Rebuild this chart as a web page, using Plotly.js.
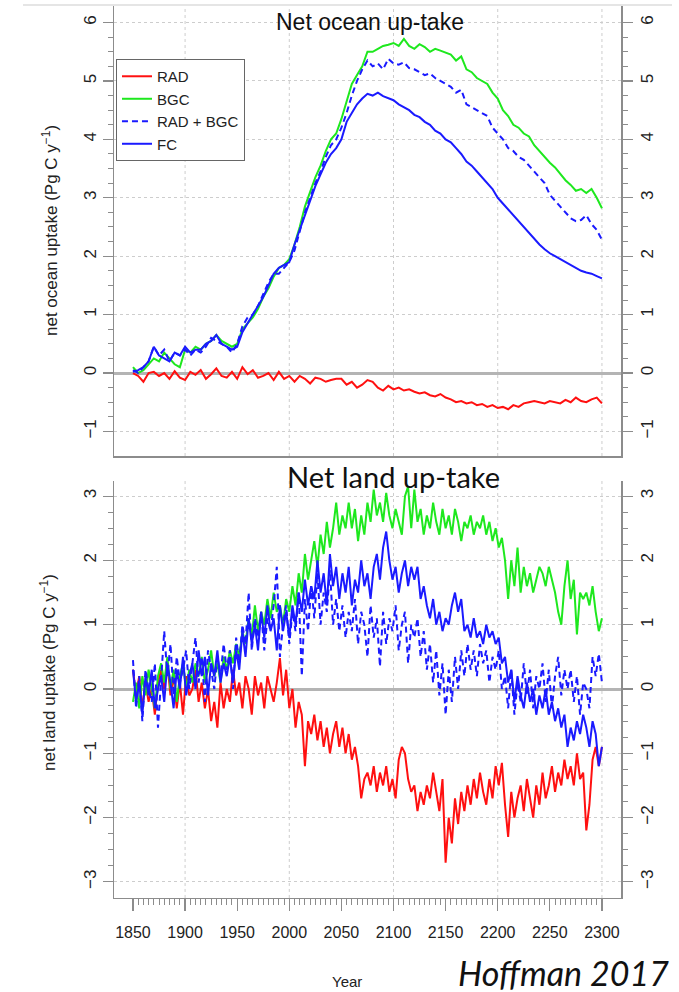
<!DOCTYPE html>
<html>
<head>
<meta charset="utf-8">
<script src="https://cdn.plot.ly/plotly-3.0.1.min.js"></script>
<style>
  html, body { margin: 0; padding: 0; background: #fff; }
  #chart { width: 679px; height: 992px; }
</style>
</head>
<body>
<div id="chart"></div>
<script>
// Year axes: ocean series are sampled every 5 years, land series every 3 years
const oceanYears = [];
for (let y = 1850; y <= 2300; y += 5) oceanYears.push(y);
const landYears = [];
for (let y = 1850; y <= 2300; y += 3) landYears.push(y);

// Net ocean uptake (Pg C / yr)
const oceanRAD = [
  0.0, -0.05, -0.15, 0.0, 0.02, -0.05, 0.0, -0.1, 0.03, -0.08,
  -0.12, 0.02, -0.03, 0.05, -0.1, -0.02, 0.08, -0.05, -0.08, 0.02,
  -0.1, 0.1, -0.02, 0.05, -0.08, -0.05, 0.0, -0.12, 0.02, -0.1,
  -0.05, -0.15, -0.05, -0.1, -0.18, -0.08, -0.1, -0.15, -0.12, -0.1,
  -0.1, -0.2, -0.15, -0.25, -0.2, -0.12, -0.15, -0.25, -0.3, -0.22,
  -0.28, -0.25, -0.3, -0.28, -0.32, -0.35, -0.33, -0.38, -0.4, -0.36,
  -0.42, -0.45, -0.5, -0.48, -0.52, -0.5, -0.55, -0.53, -0.58, -0.55,
  -0.6, -0.58, -0.62, -0.55, -0.58, -0.52, -0.5, -0.48, -0.5, -0.52,
  -0.48, -0.5, -0.52, -0.46, -0.5, -0.42, -0.48, -0.5, -0.45, -0.42,
  -0.52
];
const oceanBGC = [
  0.1, 0.0, 0.05, 0.15, 0.25, 0.2, 0.35, 0.25, 0.15, 0.1,
  0.4, 0.35, 0.45, 0.4, 0.5, 0.55, 0.65, 0.55, 0.5, 0.45,
  0.5, 0.75, 0.85, 0.95, 1.1, 1.3, 1.45, 1.65, 1.8, 1.85,
  1.95, 2.2, 2.5, 2.85, 3.1, 3.35, 3.55, 3.8, 4.0, 4.1,
  4.35, 4.65, 4.95, 5.1, 5.25, 5.5, 5.5, 5.55, 5.6, 5.62,
  5.65, 5.6, 5.72, 5.6, 5.55, 5.63, 5.58, 5.5, 5.55, 5.52,
  5.48, 5.45, 5.35, 5.42, 5.2, 5.15, 5.05, 5.0, 4.95, 4.8,
  4.7, 4.5, 4.4, 4.25, 4.2, 4.1, 4.05, 3.9, 3.8, 3.7,
  3.6, 3.52, 3.4, 3.3, 3.22, 3.12, 3.15, 3.08, 3.15, 3.0,
  2.82
];
const oceanRADBGC = [
  0.05, 0.0, 0.1, 0.2, 0.45, 0.3, 0.4, 0.2, 0.35, 0.3,
  0.4, 0.3, 0.4, 0.35, 0.45, 0.6, 0.55, 0.5, 0.45, 0.35,
  0.5, 0.8, 0.95, 1.0, 1.15, 1.35, 1.55, 1.7, 1.7, 1.8,
  1.9, 2.1, 2.45, 2.75, 3.0, 3.25, 3.45, 3.7, 3.9, 4.0,
  4.2, 4.45, 4.75, 5.0, 5.2, 5.35, 5.25, 5.3, 5.2, 5.38,
  5.3, 5.28, 5.32, 5.22, 5.2, 5.15, 5.1, 5.13, 5.05, 5.0,
  4.95, 4.9, 4.8, 4.85, 4.6, 4.55, 4.5, 4.45, 4.4, 4.2,
  4.1, 4.0, 3.85, 3.8, 3.7, 3.65, 3.55, 3.45, 3.35, 3.25,
  3.05, 2.95, 2.85, 2.75, 2.65, 2.6, 2.62, 2.7, 2.55, 2.45,
  2.28
];
const oceanFC = [
  0.02, 0.05, 0.1, 0.2, 0.45, 0.3, 0.25, 0.2, 0.35, 0.3,
  0.45, 0.35, 0.4, 0.4, 0.5, 0.55, 0.65, 0.5, 0.45, 0.4,
  0.45, 0.7, 0.85, 1.0, 1.15, 1.3, 1.5, 1.7, 1.8, 1.85,
  1.9, 2.2, 2.45, 2.7, 2.95, 3.2, 3.4, 3.6, 3.75, 3.85,
  4.0, 4.3, 4.45, 4.6, 4.7, 4.78, 4.75, 4.8, 4.74, 4.7,
  4.67, 4.6, 4.55, 4.5, 4.42, 4.38, 4.3, 4.25, 4.15, 4.1,
  4.0, 3.95, 3.85, 3.75, 3.62, 3.55, 3.45, 3.35, 3.25, 3.15,
  3.0, 2.9, 2.8, 2.7, 2.6, 2.5, 2.4, 2.3, 2.2, 2.12,
  2.05, 2.0, 1.95, 1.9, 1.85, 1.8, 1.75, 1.72, 1.7, 1.66,
  1.62
];

// Net land uptake (Pg C / yr)
const landRAD = [
  0.3, -0.1, 0.2, -0.3, 0.1, -0.2, 0.0, -0.4, 0.1, 0.3,
  0.0, 0.4, -0.1, 0.2, -0.3, 0.1, -0.4, 0.2, -0.1, 0.0,
  0.3, -0.2, 0.1, -0.3, 0.0, -0.5, -0.2, -0.6, 0.1, -0.3,
  0.0, -0.2, 0.3, -0.1, 0.1, -0.3, 0.2, 0.0, -0.4, 0.2,
  -0.1, 0.1, -0.3, 0.2, 0.0, -0.2, 0.1, 0.48, -0.1, 0.3,
  -0.3, 0.0, -0.6, -0.2, -0.4, -1.2, -0.5, -0.7, -0.4, -0.8,
  -0.5, -0.9, -0.6, -1.0, -0.7, -0.5, -0.9, -0.6, -1.0, -0.7,
  -1.1, -0.9, -1.2, -1.7, -1.4, -1.3, -1.5, -1.2, -1.6, -1.3,
  -1.5, -1.2, -1.6, -1.4, -1.7, -1.1, -0.9, -1.0, -1.4, -1.6,
  -1.5, -1.9, -1.6, -1.8, -1.5, -1.7, -1.3, -1.6, -1.9, -1.4,
  -2.7, -2.0, -2.4, -1.7, -2.1, -1.6, -1.9, -1.5, -1.8, -1.4,
  -1.7, -1.3, -1.6, -1.8, -1.4, -1.7, -1.2, -1.5, -1.15, -1.8,
  -2.3, -1.6, -2.0, -1.7, -1.5, -1.9, -1.4, -1.7, -2.0, -1.5,
  -1.8, -1.3, -1.7, -1.5, -1.2, -1.6, -1.3, -1.5, -1.1, -1.4,
  -1.2, -1.5, -1.0, -1.4, -1.3, -2.2, -1.8, -1.1, -0.9, -1.2,
  -0.9
];
const landBGC = [
  -0.2, 0.1, -0.3, 0.2, -0.1, 0.3, 0.0, -0.3, 0.2, 0.4,
  0.1, 0.5, 0.0, 0.3, -0.2, 0.2, 0.4, 0.0, 0.3, 0.1,
  0.4, 0.2, 0.5, 0.1, 0.3, 0.6, 0.2, 0.4, 0.1, 0.5,
  0.3, 0.6, 0.4, 0.7, 0.5, 0.9, 0.7, 1.1, 0.8, 1.3,
  0.9, 1.2, 1.0, 1.4, 1.1, 1.5, 1.2, 1.3, 1.0, 1.4,
  1.2, 1.6, 1.3, 1.8, 1.5, 2.1, 1.7, 2.0, 2.3, 1.9,
  2.4, 2.1, 2.6, 2.2, 2.5, 2.9, 2.4, 2.7, 2.5, 2.9,
  2.5, 2.8, 2.3, 2.7, 2.4, 2.9, 2.6, 3.1, 2.7, 2.9,
  2.6, 3.05, 2.7, 2.5, 2.8, 2.6, 2.4, 3.0, 3.15, 2.5,
  3.1, 2.6, 2.8, 2.4, 2.7, 2.5, 2.9, 2.6, 2.4, 2.8,
  2.5, 2.7, 2.4, 2.8, 2.6, 2.3, 2.6, 2.5, 2.7, 2.4,
  2.6, 2.5, 2.7, 2.4, 2.6, 2.3, 2.5, 2.2, 2.35, 2.0,
  1.4, 2.0, 1.6, 2.2, 1.5, 1.9, 1.6, 1.8, 1.5, 1.7,
  1.9, 1.8, 1.6, 1.9, 1.7, 1.5, 1.2, 1.0, 1.6, 2.0,
  1.4, 1.7, 0.85, 1.5, 1.4, 1.5, 1.3, 1.6, 1.2, 0.9,
  1.1
];
const landRADBGC = [
  0.45, -0.3, 0.2, -0.5, 0.3, 0.0, -0.2, 0.4, -0.6, 0.1,
  0.9, 0.2, 0.7, -0.1, 0.5, 0.1, 0.3, 0.6, 0.0, 0.4,
  0.8, 0.1, 0.5, -0.2, 0.6, 0.3, 0.0, 0.5, 0.2, 0.7,
  0.3, 0.6, 0.0, 0.8, 0.4, 1.0, 0.7, 1.5, 0.6, 1.1,
  0.8, 1.2, 0.6, 1.1, 0.9, 1.3, 1.9, 0.5, 1.0, 1.3,
  0.7, 1.2, 0.9, 1.5, 0.2, 1.4, 0.9, 1.6, 1.1, 1.8,
  1.0, 1.5, 1.2, 1.85, 1.0, 1.4, 0.9, 1.3, 0.8, 1.2,
  0.9, 1.4, 0.7, 1.2, 1.0, 0.5, 1.3, 0.8, 1.1, 0.35,
  1.2, 0.7, 1.1, 0.9, 1.3, 0.6, 1.0, 1.2, 0.4, 1.0,
  0.8, 1.1, 0.5, 0.9, 0.3, 0.7, 0.1, 0.6, -0.1, 0.4,
  -0.4, 0.3, -0.2, 0.5, 0.0, 0.6, 0.2, 0.7, 0.3, 0.6,
  0.2, 0.7, 0.4, 0.6, 0.1, 0.5, 0.3, 0.6, 0.0, 0.2,
  -0.3, 0.3, -0.4, 0.1, -0.2, 0.4, -0.1, 0.3, -0.3, 0.2,
  0.0, 0.4, -0.2, 0.3, -0.3, 0.2, 0.5, -0.1, 0.3, 0.0,
  0.3, -0.2, 0.2, -0.4, 0.1, 0.0, -0.3, 0.5, 0.2, 0.55,
  0.1
];
const landFC = [
  0.3, -0.2, 0.1, -0.4, 0.2, -0.1, 0.3, -0.3, 0.0, 0.2,
  -0.2, 0.4, 0.1, -0.3, 0.3, 0.0, 0.5, -0.1, 0.2, 0.4,
  0.0, 0.6, 0.2, 0.5, -0.1, 0.4, 0.2, 0.6, 0.1, 0.4,
  0.2, 0.5, 0.1, 0.6, 0.3, 0.9, 0.5, 1.1, 0.7, 1.0,
  0.6, 1.2, 0.8, 1.3, 0.9, 1.1, 0.6, 1.3, 0.9, 1.2,
  0.8, 1.3, 1.0, 1.5, 1.2, 1.7, 1.3, 1.6, 1.4, 2.0,
  1.5, 1.8, 1.3, 2.1, 1.6, 1.9, 1.4, 1.8, 1.5, 1.9,
  1.3, 1.7, 1.5, 2.0, 1.6, 1.8, 1.4, 1.9, 2.1, 1.7,
  2.2, 2.45, 2.0, 1.7, 1.9, 1.5, 1.8, 2.0, 1.6, 1.9,
  1.7, 1.9, 1.4, 1.6, 1.3, 1.1, 1.4, 1.0, 1.2, 0.9,
  1.1, 1.0, 1.3, 1.5, 1.2, 1.4, 0.9, 1.0, 0.8, 1.1,
  0.8, 0.9, 0.7, 1.0, 0.8, 0.9, 0.7, 0.8, 0.4, 0.5,
  0.1, 0.3, -0.2, 0.2, -0.1, -0.3, 0.1, -0.2, 0.0, -0.4,
  -0.1, -0.3, 0.0, -0.4, -0.2, -0.5, -0.3, -0.6, -0.4, -0.9,
  -0.6, -0.8, -0.5, -0.7, -0.4, -0.6, -0.9, -0.5, -0.7, -1.2,
  -0.9
];

// Axis tick positions
const yearTicks = [1850, 1900, 1950, 2000, 2050, 2100, 2150, 2200, 2250, 2300];
const yearGrid = [1900, 2000, 2100, 2200, 2300];
const oceanTicks = [-1, 0, 1, 2, 3, 4, 5, 6];
const landTicks = [-3, -2, -1, 0, 1, 2, 3];

const yearMinor = [];
for (let y = 1850; y <= 2300; y += 5) yearMinor.push(y);
const oceanMinor = [];
for (let v = -1; v <= 6.001; v += 0.25) oceanMinor.push(+v.toFixed(2));
const landMinor = [];
for (let v = -3; v <= 3.001; v += 0.25) landMinor.push(+v.toFixed(2));

const RED = '#ff1010', GREEN = '#1ee81e', BLUE = '#1a1aff';
const AXIS = '#8c8c8c';
const GRID = '#cdcdcd';
const TICKFONT = { family: 'Liberation Sans, Arial, sans-serif', size: 17, color: '#222' };
const XR = [1831.8, 2318.3];
const XDOM = [0.1679, 0.9146];
const TOPDOM = [0.5403, 0.9940];
const BOTDOM = [0.0948, 0.5151];
const OCEANR = [-1.421, 6.284];
const LANDR = [-3.25, 3.235];

function line(x, y, name, color, dash, xa, ya, legend) {
  return {
    type: 'scatter', mode: 'lines', x: x, y: y, name: name,
    xaxis: xa, yaxis: ya, showlegend: legend,
    line: { color: color, width: 2, dash: dash || 'solid' },
    hoverinfo: 'skip'
  };
}

// The FC runs sit on the right-hand value axes (same ranges as the left ones)
const DASH = '6px,4px';
const traces = [
  line(oceanYears, oceanRAD, 'RAD', RED, null, 'x', 'y', true),
  line(oceanYears, oceanBGC, 'BGC', GREEN, null, 'x', 'y', true),
  line(oceanYears, oceanRADBGC, 'RAD + BGC', BLUE, DASH, 'x', 'y', true),
  line(oceanYears, oceanFC, 'FC', BLUE, null, 'x', 'y3', true),
  line(landYears, landRAD, 'RAD', RED, null, 'x2', 'y2', false),
  line(landYears, landBGC, 'BGC', GREEN, null, 'x2', 'y2', false),
  line(landYears, landRADBGC, 'RAD + BGC', BLUE, DASH, 'x2', 'y2', false),
  line(landYears, landFC, 'FC', BLUE, null, 'x2', 'y4', false)
];

function valueAxis(dom, anchor, range, ticks, minor, side, overlay) {
  const ax = {
    domain: dom, anchor: anchor, range: range, side: side,
    tickmode: 'array', tickvals: ticks, tickangle: -90,
    ticks: 'outside', ticklen: 10, tickwidth: 1.2, tickcolor: AXIS,
    tickfont: TICKFONT, ticklabeloverflow: 'allow',
    minor: { tickmode: 'array', tickvals: minor, ticks: 'outside', ticklen: 5, tickwidth: 1, tickcolor: AXIS, showgrid: false },
    showline: true, linecolor: AXIS, linewidth: 1.5,
    showgrid: !overlay, gridcolor: GRID, griddash: 'dot', gridwidth: 1,
    zeroline: !overlay, zerolinecolor: '#b4b4b4', zerolinewidth: 3,
    fixedrange: true
  };
  if (overlay) { ax.overlaying = overlay; }
  return ax;
}

// Dotted vertical grid every 100 years in both panels
const gridShapes = [];
[['x', 'y domain'], ['x2', 'y2 domain']].forEach(function (ref) {
  yearGrid.forEach(function (yr) {
    gridShapes.push({
      type: 'line', xref: ref[0], yref: ref[1], x0: yr, x1: yr, y0: 0, y1: 1,
      line: { color: GRID, width: 1, dash: 'dot' }, layer: 'below'
    });
  });
});

const layout = {
  width: 679, height: 992,
  margin: { l: 0, r: 0, t: 0, b: 0 },
  paper_bgcolor: '#fff', plot_bgcolor: 'rgba(0,0,0,0)',
  showlegend: true,
  legend: {
    x: 0.1708, y: 0.9405, xanchor: 'left', yanchor: 'top',
    bgcolor: '#fff', bordercolor: '#666', borderwidth: 1,
    font: { family: 'Liberation Sans, Arial, sans-serif', size: 15, color: '#222' },
    tracegroupgap: 0, itemwidth: 30
  },
  xaxis: {
    domain: XDOM, anchor: 'y', range: XR,
    showticklabels: false, ticks: '', showgrid: false, zeroline: false,
    showline: true, linecolor: AXIS, linewidth: 1.5, fixedrange: true
  },
  yaxis: valueAxis(TOPDOM, 'x', OCEANR, oceanTicks, oceanMinor, 'left'),
  yaxis3: valueAxis(TOPDOM, 'x', OCEANR, oceanTicks, oceanMinor, 'right', 'y'),
  xaxis2: {
    domain: XDOM, anchor: 'y2', range: XR,
    tickmode: 'array', tickvals: yearTicks,
    ticks: 'outside', ticklen: 12, tickwidth: 1.2, tickcolor: AXIS,
    minor: { tickmode: 'array', tickvals: yearMinor, ticks: 'outside', ticklen: 6, tickwidth: 1, tickcolor: AXIS, showgrid: false },
    tickfont: { family: 'Liberation Sans, Arial, sans-serif', size: 16, color: '#222' },
    ticklabelstandoff: 7,
    showgrid: false, zeroline: false,
    showline: true, linecolor: AXIS, linewidth: 1.5, fixedrange: true
  },
  yaxis2: valueAxis(BOTDOM, 'x2', LANDR, landTicks, landMinor, 'left'),
  yaxis4: valueAxis(BOTDOM, 'x2', LANDR, landTicks, landMinor, 'right', 'y2'),
  annotations: [
    { text: 'Net ocean up-take', xref: 'paper', yref: 'paper', x: 0.545, y: 0.978,
      xanchor: 'center', yanchor: 'middle', showarrow: false,
      font: { family: 'Liberation Sans, Arial, sans-serif', size: 23, color: '#111' } },
    { text: 'Net land up-take', xref: 'paper', yref: 'paper', x: 0.5795, y: 0.520,
      xanchor: 'center', yanchor: 'middle', showarrow: false,
      font: { family: 'Lato, Open Sans, sans-serif', size: 29, color: '#111' } },
    { text: 'net ocean uptake (Pg C y<sup>\u22121</sup>)', xref: 'paper', yref: 'paper',
      x: 50 / 679, y: 1 - 231 / 992, xanchor: 'center', yanchor: 'middle', textangle: -90, showarrow: false,
      font: { family: 'Liberation Sans, Arial, sans-serif', size: 17, color: '#222' } },
    { text: 'net land uptake (Pg C y<sup>\u22121</sup>)', xref: 'paper', yref: 'paper',
      x: 48 / 679, y: 1 - 673 / 992, xanchor: 'center', yanchor: 'middle', textangle: -90, showarrow: false,
      font: { family: 'Liberation Sans, Arial, sans-serif', size: 17, color: '#222' } },
    { text: 'Year', xref: 'paper', yref: 'paper', x: 347 / 679, y: 1 - 981 / 992,
      xanchor: 'center', yanchor: 'middle', showarrow: false,
      font: { family: 'Liberation Sans, Arial, sans-serif', size: 15, color: '#222' } },
    { text: '<i>Hoffman 2017</i>', xref: 'paper', yref: 'paper', x: 563 / 679, y: 1 - 972 / 992,
      xanchor: 'center', yanchor: 'middle', showarrow: false,
      font: { family: 'Lato, Open Sans, sans-serif', size: 34, color: '#111' } }
  ],
  shapes: gridShapes.concat([
    { type: 'line', xref: 'paper', yref: 'paper', x0: 23 / 679, x1: 672 / 679, y0: 1 - 5 / 992, y1: 1 - 5 / 992,
      line: { color: '#dcdcdc', width: 1.5 }, layer: 'below' }
  ])
};

Plotly.newPlot('chart', traces, layout, { staticPlot: true, displayModeBar: false });
</script>
</body>
</html>
